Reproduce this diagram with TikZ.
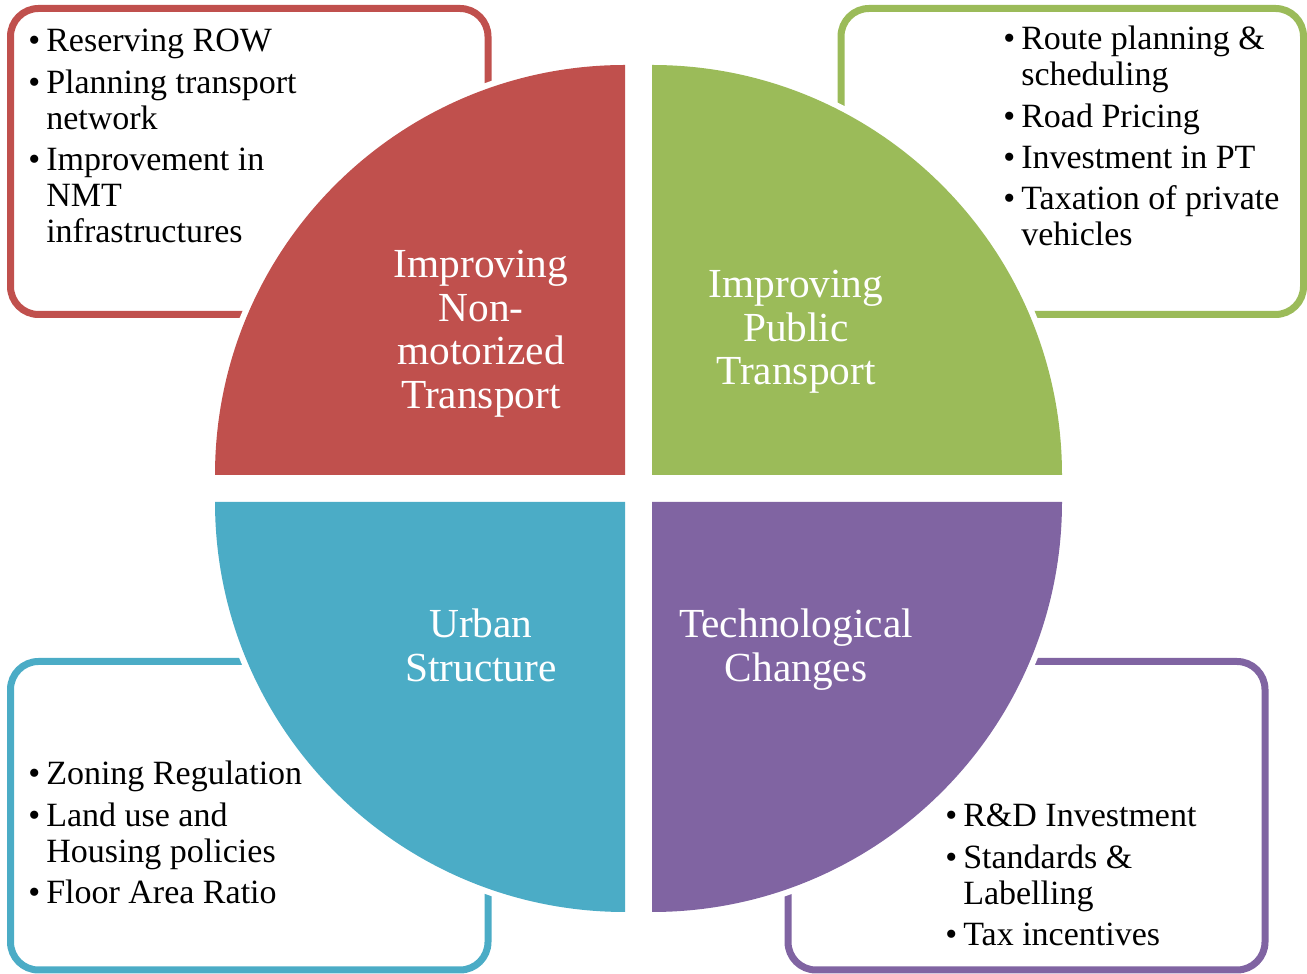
\documentclass[tikz,border=0pt]{standalone}
\usepackage{fontspec}
\setmainfont{Liberation Serif}

\definecolor{nmtred}{HTML}{C0504D}
\definecolor{ptgreen}{HTML}{9BBB59}
\definecolor{urbblue}{HTML}{4BACC6}
\definecolor{techpurple}{HTML}{8064A2}

% bullet with a fixed-width slot so continuation lines hang under the text
\newcommand\bul{\makebox[13.5pt][l]{\textbullet}}
\newcommand\hang{\hspace*{13.5pt}}

\tikzset{
  panel/.style={draw=#1, line width=5.25pt, rounded corners=21pt},
  title/.style={text=white, inner sep=0pt, anchor=base,
    font=\fontsize{31}{32.6}\selectfont},
  bullets/.style={text=black, inner sep=0pt, anchor=base west,
    font=\fontsize{25.5}{27}\selectfont},
}

\begin{document}
\begin{tikzpicture}[x=0.75pt,y=0.75pt]
\useasboundingbox (0,0) rectangle (1307,974);

% outlined boxes holding the bullet lists
\draw[panel=nmtred]     (10.5,659.5) rectangle (488,965.5);
\draw[panel=ptgreen]    (841,659.5)  rectangle (1303.5,965.5);
\draw[panel=urbblue]    (10.5,4)     rectangle (488,312.5);
\draw[panel=techpurple] (788,4)      rectangle (1265,312.5);

% white rings that cut the box outlines around the circle
\fill[white] (625,499) -- ++(180:416) arc[start angle=180, end angle=90,  radius=416] -- cycle;
\fill[white] (652,499) -- ++(90:416)  arc[start angle=90,  end angle=0,   radius=416] -- cycle;
\fill[white] (625,472) -- ++(180:416) arc[start angle=180, end angle=270, radius=416] -- cycle;
\fill[white] (652,472) -- ++(270:416) arc[start angle=270, end angle=360, radius=416] -- cycle;

% the four quarter discs
\fill[nmtred]     (625,499) -- ++(180:410) arc[start angle=180, end angle=90,  radius=410] -- cycle;
\fill[ptgreen]    (652,499) -- ++(90:410)  arc[start angle=90,  end angle=0,   radius=410] -- cycle;
\fill[urbblue]    (625,472) -- ++(180:410) arc[start angle=180, end angle=270, radius=410] -- cycle;
\fill[techpurple] (652,472) -- ++(270:410) arc[start angle=270, end angle=360, radius=410] -- cycle;

% quadrant titles
\node[title] (nmt) at (481,696) {\begin{tabular}[t]{@{}c@{}}Improving\\Non-\\motorized\\Transport\end{tabular}};
\node[title] (pt) at (796,676) {\begin{tabular}[t]{@{}c@{}}Improving\\Public\\Transport\end{tabular}};
\node[title] (urban) at (481,336) {\begin{tabular}[t]{@{}c@{}}Urban\\Structure\end{tabular}};
\node[title] (tech) at (796,336) {\begin{tabular}[t]{@{}c@{}}Technological\\Changes\end{tabular}};

% bullet lists
\node[bullets] (nmtlist) at (28,922) {\begin{tabular}[t]{@{}l@{}}
  \bul Reserving ROW\\[4pt]
  \bul Planning transport\\
  \hang network\\[4pt]
  \bul Improvement in\\
  \hang NMT\\
  \hang infrastructures
\end{tabular}};

\node[bullets] (ptlist) at (1003,924) {\begin{tabular}[t]{@{}l@{}}
  \bul Route planning \&\\
  \hang scheduling\\[4pt]
  \bul Road Pricing\\[4pt]
  \bul Investment in PT\\[4pt]
  \bul Taxation of private\\
  \hang vehicles
\end{tabular}};

\node[bullets] (urbanlist) at (28,189) {\begin{tabular}[t]{@{}l@{}}
  \bul Zoning Regulation\\[4pt]
  \bul Land use and\\
  \hang Housing policies\\[4pt]
  \bul Floor Area Ratio
\end{tabular}};

\node[bullets] (techlist) at (945,147) {\begin{tabular}[t]{@{}l@{}}
  \bul R\&D Investment\\[4pt]
  \bul Standards \&\\
  \hang Labelling\\[4pt]
  \bul Tax incentives
\end{tabular}};
\end{tikzpicture}
\end{document}
